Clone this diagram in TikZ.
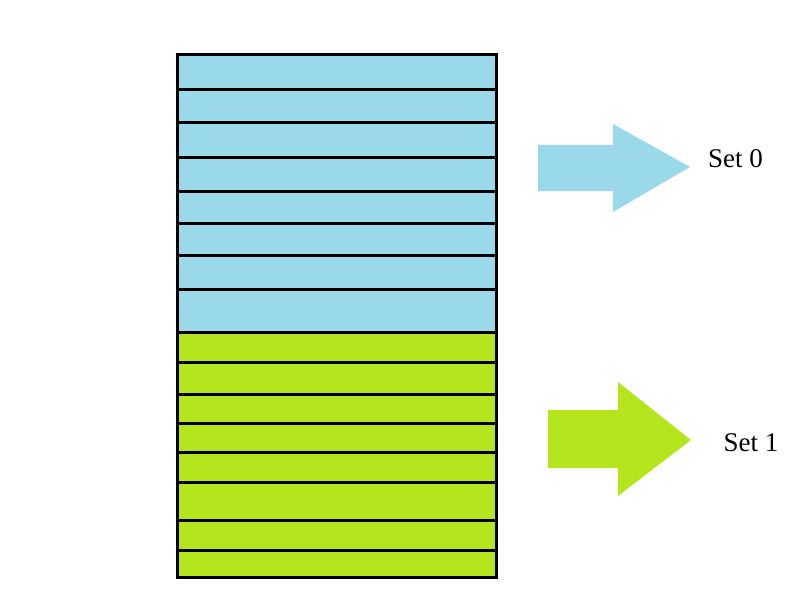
\documentclass[tikz,border=0pt]{standalone}
\usepackage{fontspec}
\setmainfont{Liberation Serif}
\definecolor{setblue}{RGB}{153,217,234}
\definecolor{setgreen}{RGB}{181,230,29}

\begin{document}
\begin{tikzpicture}[x=1pt, y=-1pt,
    rowline/.style={draw=black, line width=3pt},
    frame/.style={draw=black, line width=3pt},
    setlabel/.style={inner sep=0pt, font=\fontsize{27}{30}\selectfont}]
  \useasboundingbox (0,0) rectangle (807,602);
  % the two sets of lines
  \fill[setblue] (177,55) rectangle (496,332);
  \fill[setgreen] (177,332) rectangle (496,577);
  \foreach \y in {90,123,157,191,223,255,289,332,362,394,423,452,482,520,550}
    \draw[rowline] (177,\y) -- (496,\y);
  \draw[frame] (177,55) rectangle (496,577);
  % arrows
  \fill[setblue] (538,145) -- (613,145) -- (613,124) -- (690,167)
    -- (613,212) -- (613,191) -- (538,191) -- cycle;
  \fill[setgreen] (548,410) -- (618,410) -- (618,382) -- (691,440)
    -- (618,496) -- (618,468) -- (548,468) -- cycle;
  \node[setlabel] (set0) at (735.5,159) {Set 0};
  \node[setlabel] (set1) at (751,443) {Set 1};
\end{tikzpicture}
\end{document}
